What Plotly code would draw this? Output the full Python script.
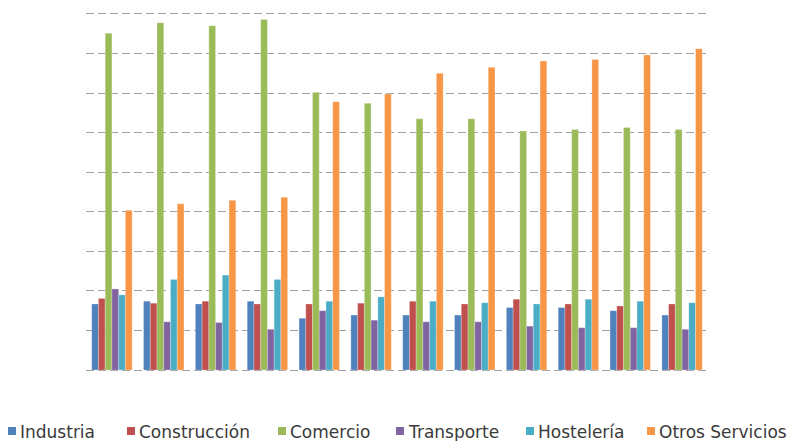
import plotly.graph_objects as go

periods = [str(i) for i in range(1, 13)]
series_names = ["Industria", "Construcción", "Comercio", "Transporte", "Hostelería", "Otros Servicios"]
industria = [1.67, 1.74, 1.67, 1.74, 1.31, 1.39, 1.39, 1.39, 1.58, 1.58, 1.50, 1.39]
construccion = [1.81, 1.69, 1.74, 1.67, 1.67, 1.69, 1.74, 1.67, 1.79, 1.67, 1.62, 1.67]
comercio = [8.51, 8.78, 8.70, 8.86, 7.02, 6.74, 6.35, 6.35, 6.04, 6.08, 6.13, 6.08]
transporte = [2.05, 1.22, 1.20, 1.03, 1.50, 1.26, 1.22, 1.22, 1.11, 1.07, 1.07, 1.03]
hosteleria = [1.90, 2.29, 2.40, 2.29, 1.74, 1.85, 1.74, 1.70, 1.67, 1.79, 1.74, 1.70]
otros = [4.04, 4.20, 4.29, 4.37, 6.78, 6.98, 7.50, 7.65, 7.81, 7.85, 7.96, 8.12]
colors = ["#4F81BD", "#C0504D", "#9BBB59", "#8064A2", "#4BACC6", "#F79646"]

data = [industria, construccion, comercio, transporte, hosteleria, otros]

# the page body adds an 8px offset; layout below is in figure pixels
OFF = 8
W, H = 799 - OFF, 441 - OFF
L, R, T, B = 78, 91, 2, 67
pw, ph = W - L - R, H - T - B

fig = go.Figure()
for name, vals, col in zip(series_names, data, colors):
    fig.add_trace(go.Bar(x=periods, y=vals, name=name, showlegend=False,
                         marker=dict(color=col, line=dict(color="rgba(255,255,255,0.5)", width=0.5))))

# manual legend (screen pixel x of each item's square)
legend_px = [8, 127, 278, 396, 526, 647]
legend_y_px = 431

def px_to_paper_x(px):
    return (px - OFF - L) / pw

def py_to_paper_y(py):
    return (H - B - (py - OFF)) / ph

shapes = []
annotations = []
for name, col, px in zip(series_names, colors, legend_px):
    shapes.append(dict(type="rect", xref="paper", yref="paper",
                       x0=px_to_paper_x(px), x1=px_to_paper_x(px + 8),
                       y0=py_to_paper_y(legend_y_px + 4), y1=py_to_paper_y(legend_y_px - 4),
                       fillcolor=col, line=dict(width=0)))
    annotations.append(dict(xref="paper", yref="paper", x=px_to_paper_x(px + 10),
                            y=py_to_paper_y(legend_y_px + 1), xanchor="left", yanchor="middle",
                            text=name, showarrow=False,
                            font=dict(family="DejaVu Sans", size=17, color="#3a3a3a")))

fig.update_layout(
    width=W, height=H,
    margin=dict(l=L, r=R, t=T, b=B, autoexpand=False),
    paper_bgcolor="white", plot_bgcolor="white",
    barmode="group", bargap=0.22, bargroupgap=0,
    font=dict(family="DejaVu Sans", size=13, color="#3a3a3a"),
    showlegend=False,
    shapes=shapes, annotations=annotations,
    xaxis=dict(showticklabels=False, showgrid=False, zeroline=False, showline=False, ticks=""),
    yaxis=dict(range=[-0.1, 9.1], tickvals=list(range(0, 10)), showticklabels=False, showgrid=True,
               gridcolor="#a0a0a0", griddash="8px,4px", gridwidth=1.3,
               zeroline=False, showline=False, ticks=""),
)
fig.write_html("out.html")
